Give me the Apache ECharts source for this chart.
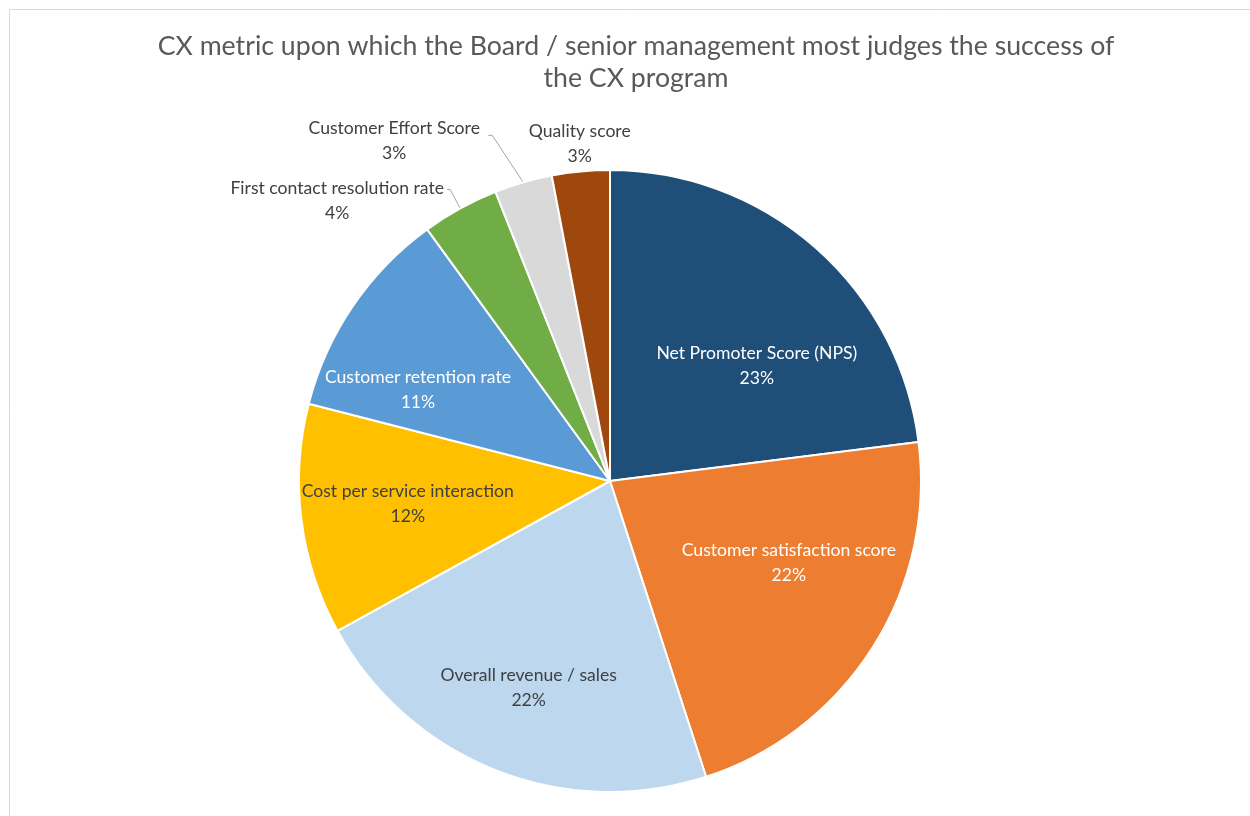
<!DOCTYPE html>
<html>
<head>
<meta charset="utf-8">
<title>CX metric pie</title>
<script src="https://cdn.jsdelivr.net/npm/echarts@6/dist/echarts.min.js"></script>
<style>
  html, body { margin: 0; padding: 0; background: #ffffff; }
  #chart { width: 1250px; height: 816px; }
</style>
</head>
<body>
<div id="chart"></div>
<script>
// Survey shares (%) of each CX metric
const categories = [
  'Net Promoter Score (NPS)',
  'Customer satisfaction score',
  'Overall revenue / sales',
  'Cost per service interaction',
  'Customer retention rate',
  'First contact resolution rate',
  'Customer Effort Score',
  'Quality score'
];
const shares = [23, 22, 22, 12, 11, 4, 3, 3];
const colors = ['#1F4E79', '#ED7D31', '#BDD7EE', '#FFC000', '#5B9BD5', '#70AD47', '#D9D9D9', '#9E480E'];
const labelColors = ['#ffffff', '#ffffff', '#404040', '#404040', '#ffffff', '#404040', '#404040', '#404040'];

// Nudges for the labels that sit inside their slices
const insideOffsets = [[42, 4], [45, -3], [-23, 59], [-45, 3], [-61, -2]];
// Outside labels: block centre relative to the slice edge point, and leader line bends
const outsideLayout = {
  5: { dx: -123, dy: -8, line: [[-10, -19], [-13, -19]] },
  6: { dx: -129, dy: -42, line: [[-31, -47], [-35, -47]] },
  7: { dx: -1, dy: -28, line: null }
};

const FONT = 'Lato, "Open Sans", sans-serif';

const data = categories.map((name, i) => {
  const item = {
    name: name,
    value: shares[i],
    itemStyle: { color: colors[i] },
    label: { color: labelColors[i] }
  };
  if (i < 5) {
    item.label.position = 'inside';
    item.label.offset = insideOffsets[i];
    item.labelLine = { show: false };
  } else {
    item.label.position = 'outside';
    item.labelLine = { show: outsideLayout[i].line !== null };
  }
  return item;
});

const chart = echarts.init(document.getElementById('chart'), null, { renderer: 'canvas' });

chart.setOption({
  backgroundColor: '#ffffff',
  animation: false,
  title: {
    text: 'CX metric upon which the Board / senior management most judges the success of\nthe CX program',
    left: 631,
    top: 25,
    textAlign: 'center',
    textStyle: {
      fontFamily: FONT,
      fontSize: 26.7,
      fontWeight: 'normal',
      color: '#595959',
      lineHeight: 32
    }
  },
  graphic: [{
    type: 'rect',
    silent: true,
    shape: { x: 9.5, y: 9.5, width: 1400, height: 1000 },
    style: { fill: 'none', stroke: '#d9d9d9', lineWidth: 1 }
  }],
  series: [{
    type: 'pie',
    center: [610, 481],
    radius: 311,
    startAngle: 90,
    clockwise: true,
    avoidLabelOverlap: false,
    itemStyle: { borderColor: '#ffffff', borderWidth: 2 },
    label: {
      fontFamily: FONT,
      fontSize: 17.6,
      lineHeight: 25,
      align: 'center',
      formatter: p => p.name + '\n' + p.value + '%'
    },
    labelLine: {
      lineStyle: { color: '#a6a6a6', width: 1 },
      length: 20,
      length2: 10
    },
    labelLayout: function (params) {
      const cfg = outsideLayout[params.dataIndex];
      if (!cfg || !params.labelLinePoints) return {};
      const e = params.labelLinePoints[0];
      const out = {
        x: e[0] + cfg.dx,
        y: e[1] + cfg.dy,
        align: 'center',
        verticalAlign: 'middle'
      };
      if (cfg.line) {
        out.labelLinePoints = [
          [e[0], e[1]],
          [e[0] + cfg.line[0][0], e[1] + cfg.line[0][1]],
          [e[0] + cfg.line[1][0], e[1] + cfg.line[1][1]]
        ];
      }
      return out;
    },
    data: data
  }]
});
</script>
</body>
</html>
